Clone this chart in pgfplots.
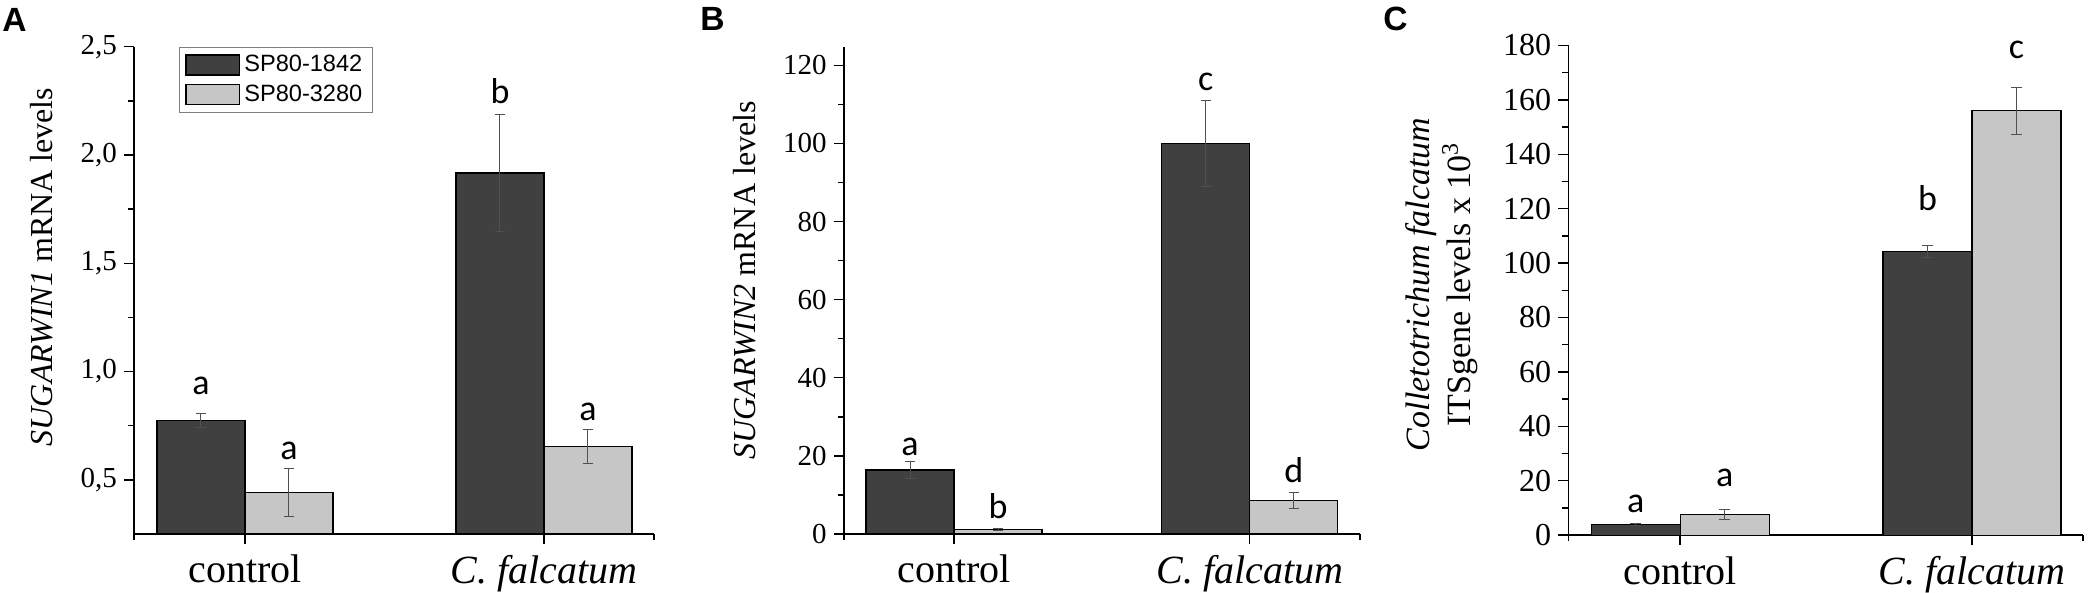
\documentclass[border=0pt]{standalone}
\usepackage{fontspec}
\setmainfont{Liberation Serif}
\newfontfamily\legfont{Liberation Sans}
\newfontfamily\letfont{Carlito}
\usepackage{pgfplots}
\pgfplotsset{compat=1.18}
\definecolor{darkbar}{HTML}{404040}
\definecolor{lightbar}{HTML}{C6C6C6}
\definecolor{errc}{HTML}{505050}

% x = bar centre (group 0 = control, group 1 = C. falcatum)
\pgfplotstableread{
x y err
-0.1471 0.774 0.031
0.8529 1.917 0.27
}\Adark
\pgfplotstableread{
x y err
0.1471 0.443 0.111
1.1471 0.654 0.080
}\Alight
\pgfplotstableread{
x y err
-0.1488 16.4 2.1
0.8512 100.0 11.0
}\Bdark
\pgfplotstableread{
x y err
0.1488 1.15 0.3
1.1488 8.6 2.0
}\Blight
\pgfplotstableread{
x y err
-0.1524 3.9 0.3
0.8476 104.3 2.3
}\Cdark
\pgfplotstableread{
x y err
0.1524 7.6 1.7
1.1524 156.0 8.7
}\Clight

\pgfplotsset{
  panel/.style={
    scale only axis, anchor=south west,
    axis lines=left, axis line style={-, line width=0.7pt, black},
    tick align=outside, major tick length=5pt, minor tick length=3pt,
    every tick/.style={black, line width=0.7pt},
    xtick={0,1}, xticklabels={control, \textit{C. falcatum}},
    x tick label style={font=\rmfamily\fontsize{20}{23}\selectfont, yshift=-2pt},
    y tick label style={font=\rmfamily\fontsize{14.5}{17}\selectfont},
    /pgf/number format/assume math mode=true,
    ylabel style={font=\rmfamily\fontsize{16}{19}\selectfont, anchor=center},
  },
  bars/.style={ybar, bar width=#1, bar shift=0pt, draw=black, line width=0.6pt,
    error bars/y dir=both, error bars/y explicit,
    error bars/error bar style={line width=0.5pt, errc},
    error bars/error mark options={rotate=90, mark size=2.6pt, line width=0.5pt, errc}},
  letters/.style={draw=none, mark=none, point meta=explicit symbolic, nodes near coords,
    forget plot,
    every node near coord/.style={anchor=base, xshift=#1, inner sep=0pt,
      font=\letfont\fontsize{18}{20}\selectfont, text=black}},
}

\begin{document}
\begin{tikzpicture}
\useasboundingbox (0,0) rectangle (1044.5pt,296.5pt);

\node[anchor=base west, inner sep=0pt, font=\legfont\bfseries\fontsize{16.8}{19}\selectfont] at (1pt,280.5pt) {A};
\node[anchor=base west, inner sep=0pt, font=\legfont\bfseries\fontsize{16.8}{19}\selectfont] at (350pt,281pt) {B};
\node[anchor=base west, inner sep=0pt, font=\legfont\bfseries\fontsize{16.8}{19}\selectfont] at (691.5pt,281pt) {C};

% Panel A
\begin{axis}[panel, at={(67pt,29.5pt)}, width=260pt, height=243.65pt,
  xmin=-0.371, xmax=1.368, ymin=0.25, ymax=2.5,
  minor xtick={-0.371,1.368},
  ytick={0.5,1.0,1.5,2.0,2.5}, minor ytick={0.75,1.25,1.75,2.25},
  yticklabel style={/pgf/number format/fixed, /pgf/number format/fixed zerofill,
    /pgf/number format/precision=1, /pgf/number format/use comma},
  ylabel={\textit{SUGARWIN1} mRNA levels},
  ylabel style={at={(axis description cs:-0.177,0.548)}},
  legend style={at={(rel axis cs:0.0865,1)}, anchor=north west, draw=gray,
    line width=0.5pt, font=\legfont\fontsize{11.8}{13}\selectfont,
    cells={anchor=west}, inner xsep=3pt, inner ysep=2pt, row sep=1pt},
]
\addplot[bars=44pt, fill=darkbar,
  legend image code/.code={\draw[fill=darkbar, draw=black, line width=0.6pt] (0pt,-5pt) rectangle (26.8pt,5pt);}]
  table[x=x, y=y, y error=err] {\Adark};
\addlegendentry{SP80-1842\hspace{3pt}}
\addplot[bars=44pt, fill=lightbar,
  legend image code/.code={\draw[fill=lightbar, draw=black, line width=0.6pt] (0pt,-5pt) rectangle (26.8pt,5pt);}]
  table[x=x, y=y, y error=err] {\Alight};
\addlegendentry{SP80-3280\hspace{3pt}}
\addplot[letters=-22pt] table[meta=lab] {
x y lab
0 0.894 a
1 2.24 b
};
\addplot[letters=22pt] table[meta=lab] {
x y lab
0 0.594 a
1 0.772 a
};
\end{axis}

% Panel B
\begin{axis}[panel, at={(421.9pt,29.5pt)}, width=258.1pt, height=243.35pt,
  xmin=-0.373, xmax=1.373, ymin=0, ymax=124.6, clip=false,
  minor xtick={-0.373,1.373},
  ytick={0,20,...,120}, minor ytick={10,30,...,110},
  ylabel={\textit{SUGARWIN2} mRNA levels},
  ylabel style={at={(axis description cs:-0.193,0.521)}},
]
\addplot[bars=44pt, fill=darkbar] table[x=x, y=y, y error=err] {\Bdark};
\addplot[bars=44pt, fill=lightbar] table[x=x, y=y, y error=err] {\Blight};
\addplot[letters=-22pt] table[meta=lab] {
x y lab
0 20.0 a
1 113.5 c
};
\addplot[letters=22pt] table[meta=lab] {
x y lab
0 3.9 b
1 13.3 d
};
\end{axis}

% Panel C
\begin{axis}[panel, at={(784.15pt,28.9pt)}, width=257.35pt, height=244.9pt,
  xmin=-0.383, xmax=1.380, ymin=0, ymax=180, clip=false,
  minor xtick={-0.383,1.380},
  ytick={0,20,...,180}, minor ytick={10,30,...,170},
  y tick label style={font=\rmfamily\fontsize{16}{19}\selectfont},
  ylabel={\textit{Colletotrichum falcatum}\\ITSgene levels x 10\textsuperscript{3}},
  ylabel style={at={(axis description cs:-0.246,0.512)}, align=center,
    font=\rmfamily\fontsize{17}{20.5}\selectfont},
]
\addplot[bars=44.5pt, fill=darkbar] table[x=x, y=y, y error=err] {\Cdark};
\addplot[bars=44.5pt, fill=lightbar] table[x=x, y=y, y error=err] {\Clight};
\addplot[letters=-22.25pt] table[meta=lab] {
x y lab
0 8.3 a
1 119.2 b
};
\addplot[letters=22.25pt] table[meta=lab] {
x y lab
0 17.8 a
1 175.2 c
};
\end{axis}
\end{tikzpicture}
\end{document}
